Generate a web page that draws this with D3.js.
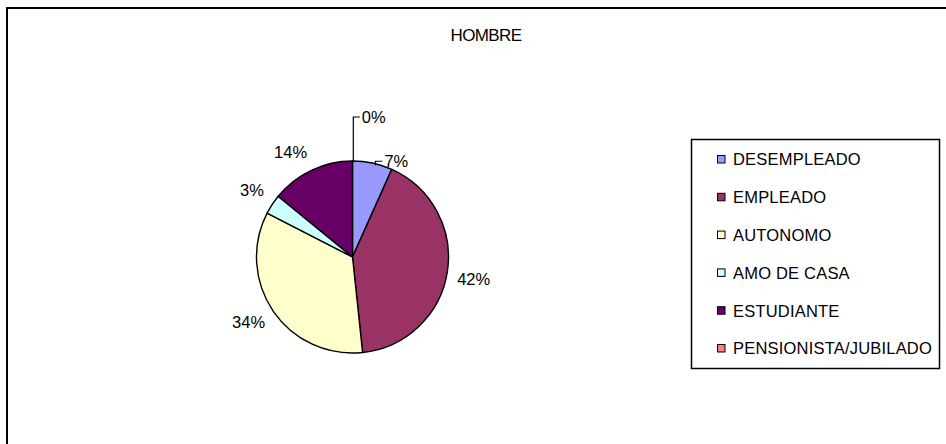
<!DOCTYPE html>
<html>
<head>
<meta charset="utf-8">
<script src="https://cdn.jsdelivr.net/npm/d3@7"></script>
<style>
  html, body { margin: 0; padding: 0; background: #fff; }
  svg { display: block; font-family: "Liberation Sans", Arial, sans-serif; }
</style>
</head>
<body>
<svg id="chart" width="946" height="444"></svg>
<script>
const title = "HOMBRE";
const categories = ["DESEMPLEADO", "EMPLEADO", "AUTONOMO", "AMO DE CASA", "ESTUDIANTE", "PENSIONISTA/JUBILADO"];
const values = [10, 62, 51, 5, 21, 0];
const colors = ["#9999FF", "#993366", "#FFFFCC", "#CCFFFF", "#660066", "#FF8080"];

const svg = d3.select("#chart");
const W = 946, H = 444;

// outer frame (extends past the right and bottom of the view)
svg.append("rect")
  .attr("x", 7).attr("y", 8)
  .attr("width", W + 20).attr("height", H + 20)
  .attr("fill", "#fff").attr("stroke", "#000").attr("stroke-width", 2);

// title
svg.append("text")
  .attr("x", 486).attr("y", 41)
  .attr("text-anchor", "middle")
  .attr("font-size", 17).attr("letter-spacing", -0.6)
  .attr("fill", "#000")
  .text(title);

// pie
const cx = 352.5, cy = 257, r = 96;
const total = d3.sum(values);
const pie = d3.pie().sort(null).value(d => d.v);
const data = pie(values.map((v, i) => ({v, name: categories[i], i})));
const arc = d3.arc().innerRadius(0).outerRadius(r);
const color = d3.scaleOrdinal().domain(categories).range(colors);

const g = svg.append("g").attr("transform", `translate(${cx},${cy})`);
g.selectAll("path.slice")
  .data(data.filter(d => d.data.v > 0))
  .join("path")
  .attr("class", "slice")
  .attr("d", arc)
  .attr("fill", d => color(d.data.name))
  .attr("stroke", "#000")
  .attr("stroke-width", 1.4)
  .attr("stroke-linejoin", "round");

const pct = d3.format(".0%");
const labelR = 106;
const fs = 16.5;

data.forEach(d => {
  const txt = pct(d.data.v / total);
  const mid = ((d.startAngle + d.endAngle) / 2) % (2 * Math.PI);
  const s = Math.sin(mid), c = Math.cos(mid);
  const frac = d.data.v / total;
  if (frac < 0.08 && (mid < 0.5 || mid > 2 * Math.PI - 0.05)) {
    // small slices at the top: leader lines
    let ex, ey, topY, hx;
    if (d.data.v === 0) {
      ex = r * Math.sin(mid) + 0.8; ey = -r; topY = -r - 44; hx = 6.5;
    } else {
      const a = mid + 0.03;
      ex = r * Math.sin(a); ey = -r * Math.cos(a) + 1.5; topY = ey - 4; hx = 7;
    }
    g.append("path")
      .attr("d", `M${ex},${ey}V${topY}H${ex + hx}`)
      .attr("fill", "none").attr("stroke", "#000").attr("stroke-width", 1.2);
    g.append("text")
      .attr("x", ex + hx + 2).attr("y", topY)
      .attr("dy", "0.36em")
      .attr("font-size", fs).attr("fill", "#000")
      .text(txt);
    return;
  }
  const px = labelR * s, py = -labelR * c;
  const h = 14;
  g.append("text")
    .attr("x", px)
    .attr("y", py + (c > 0 ? -h / 2 : h / 2) - 2)
    .attr("dy", "0.36em")
    .attr("text-anchor", s >= 0 ? "start" : "end")
    .attr("font-size", fs).attr("fill", "#000")
    .text(txt);
});

// legend
const lg = svg.append("g");
lg.append("rect")
  .attr("x", 691.5).attr("y", 139.5)
  .attr("width", 248).attr("height", 229)
  .attr("fill", "#fff").attr("stroke", "#000").attr("stroke-width", 1.5);
const ly = d3.scalePoint().domain(categories).range([159.5, 348.5]);
const items = lg.selectAll("g.item").data(categories).join("g")
  .attr("class", "item")
  .attr("transform", d => `translate(0,${ly(d)})`);
items.append("rect")
  .attr("x", 717.5).attr("y", -4)
  .attr("width", 7.5).attr("height", 7.5)
  .attr("fill", d => color(d))
  .attr("stroke", "#000").attr("stroke-width", 1);
items.append("text")
  .attr("x", 733).attr("y", 0)
  .attr("dy", "0.36em")
  .attr("font-size", 16.5).attr("letter-spacing", 0.2)
  .attr("fill", "#000")
  .text(d => d);
</script>
</body>
</html>
